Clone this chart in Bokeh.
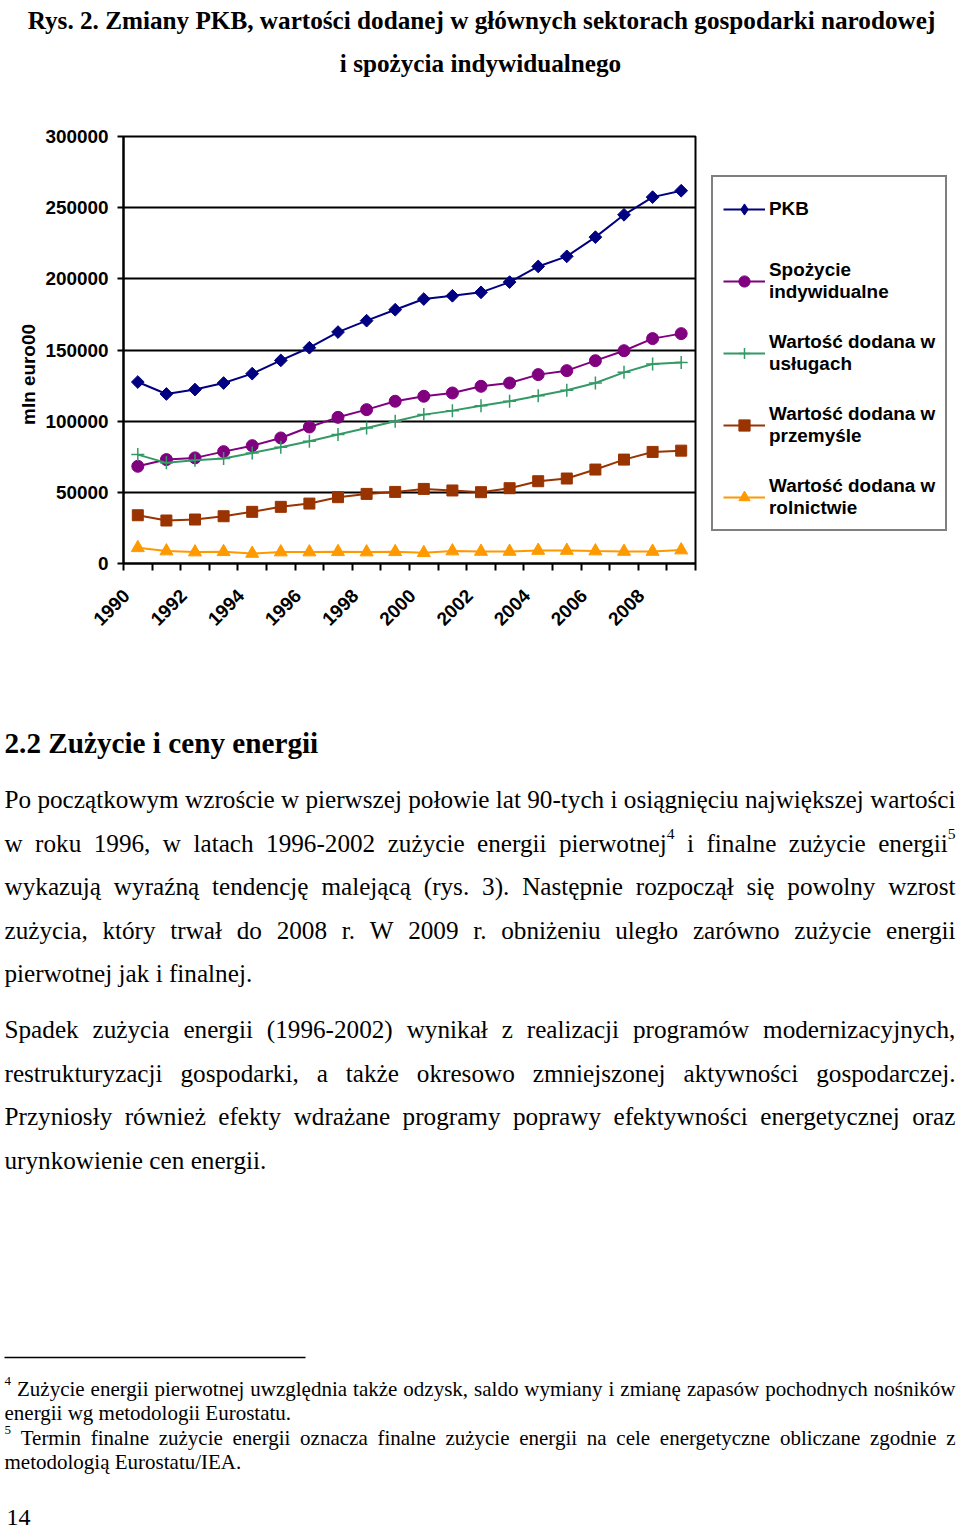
import os
import glob
import math
from bokeh.plotting import figure
from bokeh.models import Range1d, FixedTicker, Legend, LegendItem, ColumnDataSource
from bokeh.layouts import column, row
from bokeh.embed import file_html
from bokeh.resources import INLINE
from bokeh.core.properties import value

# ---------------- data ----------------
years = list(range(1990, 2010))
year_labels = [str(y) for y in years[::2]]

pkb = [127500, 119100, 122200, 126800, 133400, 142700, 151600, 162600, 170600, 178300,
       185800, 188100, 190500, 197700, 208700, 215800, 229300, 245000, 257400, 261900]
spozycie = [68300, 73000, 74200, 78600, 82800, 88200, 95900, 102700, 108100, 114000,
            117500, 119800, 124500, 126800, 132700, 135500, 142500, 149500, 158000, 161500]
uslugi = [76500, 70700, 72500, 73700, 77700, 81700, 85900, 90600, 95200, 99900,
          104600, 107400, 110900, 114000, 117900, 121700, 126800, 134300, 140200, 141300]
przemysl = [33900, 30200, 30900, 33200, 36300, 39800, 42100, 46600, 48900, 50300,
            52400, 51300, 50100, 52900, 57800, 59700, 66000, 73000, 78400, 79300]
rolnictwo = [11000, 8700, 8000, 8200, 7000, 8000, 8000, 8200, 8000, 8200,
             7500, 8700, 8400, 8400, 9100, 9100, 8700, 8400, 8400, 9400]

y_ticks = [0, 50000, 100000, 150000, 200000, 250000, 300000]
y_tick_labels = ["0", "50000", "100000", "150000", "200000", "250000", "300000"]
y_axis_title = "mln euro00"

series_labels = ["PKB", "Spożycie\nindywidualne", "Wartość dodana w\nusługach",
                 "Wartość dodana w\nprzemyśle", "Wartość dodana w\nrolnictwie"]

title_lines = ["Rys. 2. Zmiany PKB, wartości dodanej w głównych sektorach gospodarki narodowej",
               "i spożycia indywidualnego"]
heading = "2.2 Zużycie i ceny energii"
body_lines = [
    ("Po początkowym wzroście w pierwszej połowie lat 90-tych i osiągnięciu największej wartości", True),
    ("w roku 1996, w latach 1996-2002 zużycie energii pierwotnej^4 i finalne zużycie energii^5", True),
    ("wykazują wyraźną tendencję malejącą (rys. 3). Następnie rozpoczął się powolny wzrost", True),
    ("zużycia, który trwał do 2008 r. W 2009 r. obniżeniu uległo zarówno zużycie energii", True),
    ("pierwotnej jak i finalnej.", False),
    ("Spadek zużycia energii (1996-2002) wynikał z realizacji programów modernizacyjnych,", True),
    ("restrukturyzacji gospodarki, a także okresowo zmniejszonej aktywności gospodarczej.", True),
    ("Przyniosły również efekty wdrażane programy poprawy efektywności energetycznej oraz", True),
    ("urynkowienie cen energii.", False),
]
foot_lines = [
    ("^4 Zużycie energii pierwotnej uwzględnia także odzysk, saldo wymiany i zmianę zapasów pochodnych nośników", True),
    ("energii wg metodologii Eurostatu.", False),
    ("^5 Termin finalne zużycie energii oznacza finalne zużycie energii na cele energetyczne obliczane zgodnie z", True),
    ("metodologią Eurostatu/IEA.", False),
]
page_number = "14"

# ---------------- font measurement ----------------
def _find(name):
    for d in ("/usr/share/fonts", "/usr/local/share/fonts",
              os.path.expanduser("~/.fonts"), os.path.expanduser("~/.local/share/fonts")):
        if os.path.isdir(d):
            hits = glob.glob(os.path.join(d, "**", name), recursive=True)
            if hits:
                return hits[0]
    return None

_fonts = {}
try:
    from PIL import ImageFont
    for key, fname in {("serif", False): "LiberationSerif-Regular.ttf",
                       ("serif", True): "LiberationSerif-Bold.ttf",
                       ("sans", True): "LiberationSans-Bold.ttf"}.items():
        path = _find(fname)
        if path:
            _fonts[key] = ImageFont.truetype(path, 100)
except Exception:
    _fonts = {}


def measure(text, size, fam="serif", bold=False):
    f = _fonts.get((fam, bold))
    if f is not None:
        try:
            return f.getlength(text) * size / 100.0
        except Exception:
            pass
    return len(text) * size * (0.55 if fam == "sans" else 0.46)


def fit(pairs, default, fam, bold, lo, hi):
    if (fam, bold) not in _fonts:
        return default
    vals = [target / measure(t, 1.0, fam, bold) for t, target in pairs]
    v = sum(vals) / len(vals)
    return round(min(max(v, lo), hi), 1)


TITLE_FS = fit([(title_lines[0], 908)], 25, "serif", True, 22, 28)
HEAD_FS = fit([(heading, 314)], 29, "serif", True, 25, 32)
BODY_FS = fit([("pierwotnej jak i finalnej.", 247), ("urynkowienie cen energii.", 262)], 25, "serif", False, 22, 27)
FOOT_FS = fit([("energii wg metodologii Eurostatu.", 287), ("metodologią Eurostatu/IEA.", 236)], 21, "serif", False, 18, 23)
CHART_FS = fit([("300000", 63), ("Wartość dodana w", 168), ("mln euro00", 100)], 18.7, "sans", True, 16, 20)

W = 958
TITLE_H = 78
CHART_H = 610
TEXT_H = 1535 - TITLE_H - CHART_H
STRIP_W = 40
CHART_W = 703 - STRIP_W


def no_align(fig):
    if "frame_align" in fig.properties():
        fig.frame_align = False


def blank(fig):
    no_align(fig)
    fig.outline_line_color = None
    fig.grid.visible = False


def canvas(width, height, xr, yr):
    fig = figure(width=width, height=height, x_range=xr, y_range=yr, min_border=0,
                 toolbar_location=None, output_backend="svg",
                 x_axis_location=None, y_axis_location=None)
    blank(fig)
    return fig


cf = f"{CHART_FS}px"

# ---------------- title figure ----------------
ft = canvas(W, TITLE_H, Range1d(0, W), Range1d(TITLE_H, 0))
ft.text(x=[481, 480], y=[20, 63], text=title_lines,
        text_font=value("Liberation Serif"), text_font_size=value(f"{TITLE_FS}px"),
        text_font_style="bold", text_align="center", text_baseline="alphabetic",
        text_color="black")

# ---------------- y-axis title strip ----------------
yl = canvas(STRIP_W, CHART_H, Range1d(0, STRIP_W), Range1d(0, CHART_H))
yl.text(x=[28], y=[TITLE_H + CHART_H - 374], text=[y_axis_title], angle=math.pi / 2,
        text_font=value("Liberation Sans"), text_font_size=value(cf),
        text_font_style="bold", text_align="center", text_baseline="middle",
        text_color="black")

# ---------------- chart ----------------
p = figure(width=CHART_W, height=CHART_H, x_range=Range1d(1989.5, 2009.5),
           y_range=Range1d(0, 300000), toolbar_location=None, output_backend="svg",
           min_border_left=123 - STRIP_W, min_border_right=CHART_W - (123 - STRIP_W) - 572,
           min_border_top=58, min_border_bottom=125)
no_align(p)
p.background_fill_color = "white"
p.border_fill_color = "white"
p.outline_line_color = "black"
p.outline_line_width = 2
p.xgrid.visible = False
p.ygrid.grid_line_color = "black"
p.ygrid.grid_line_width = 2

p.yaxis.ticker = FixedTicker(ticks=y_ticks)
p.yaxis.major_label_overrides = {t: lab for t, lab in zip(y_ticks, y_tick_labels)}
p.yaxis.major_tick_out = 6
p.yaxis.major_tick_in = 0
p.yaxis.minor_tick_out = 0
p.yaxis.minor_tick_in = 0
p.yaxis.major_label_standoff = 9

# rotated year labels are anchored (as in the original) slightly left of the category centre
label_ticks = [round(y - 0.4, 2) for y in years[::2]]
p.xaxis.ticker = FixedTicker(ticks=label_ticks,
                             minor_ticks=[y - 0.5 for y in years] + [years[-1] + 0.5])
p.xaxis.major_label_overrides = {t: lab for t, lab in zip(label_ticks, year_labels)}
p.xaxis.major_label_orientation = math.pi / 4
p.xaxis.major_tick_out = 0
p.xaxis.major_tick_in = 0
p.xaxis.minor_tick_out = 7
p.xaxis.minor_tick_in = 0
p.xaxis.major_label_standoff = 22

for ax in (p.xaxis, p.yaxis):
    ax.axis_line_color = "black"
    ax.axis_line_width = 2
    ax.major_tick_line_color = "black"
    ax.major_tick_line_width = 2
    ax.minor_tick_line_color = "black"
    ax.minor_tick_line_width = 2
    ax.major_label_text_font = "Liberation Sans"
    ax.major_label_text_font_style = "bold"
    ax.major_label_text_font_size = cf
    ax.major_label_text_color = "black"

# (values, colour, chart marker, size, angle, marker line width, legend marker)
styles = [
    (pkb, "#000080", "square", 9, math.pi / 4, 1, "diamond"),
    (spozycie, "#800080", "circle", 12, 0, 1, "circle"),
    (uslugi, "#339966", "cross", 13, 0, 1.5, "cross"),
    (przemysl, "#993300", "square", 11, 0, 1, "square"),
    (rolnictwo, "#FF9900", "triangle", 13, 0, 1, "triangle"),
]

# legend panel: its own figure so that the box is not clipped by the chart frame;
# its swatches use the same series (plotted outside its empty view)
lf = canvas(W - CHART_W - STRIP_W, CHART_H, Range1d(0, 1), Range1d(-1, 0))

items = []
for (vals, col, mk, sz, ang, mlw, lmk), lab in zip(styles, series_labels):
    src = ColumnDataSource(dict(x=years, y=vals))
    p.line("x", "y", source=src, line_color=col, line_width=2)
    p.scatter("x", "y", source=src, marker=mk, size=sz, angle=ang,
              fill_color=col, line_color=col, line_width=mlw)
    ln = lf.line("x", "y", source=src, line_color=col, line_width=2)
    sc = lf.scatter("x", "y", source=src, marker=lmk, size=sz,
                    fill_color=col, line_color=col, line_width=mlw)
    items.append(LegendItem(label=lab, renderers=[ln, sc]))

legend = Legend(items=items, location=(711 - CHART_W - STRIP_W, TITLE_H + CHART_H - 531))
legend.label_text_font = "Liberation Sans"
legend.label_text_font_style = "bold"
legend.label_text_font_size = cf
legend.label_text_color = "black"
legend.glyph_width = 42
legend.glyph_height = 28
legend.label_standoff = 4
legend.label_height = 44
legend.spacing = 28
legend.padding = 10
legend.margin = 0
legend.border_line_color = "black"
legend.border_line_width = 2
legend.background_fill_color = "white"
legend.background_fill_alpha = 1
lf.add_layout(legend)

# ---------------- text figure ----------------
T0 = TITLE_H + CHART_H
fx = canvas(W, TEXT_H, Range1d(0, W), Range1d(T0 + TEXT_H, T0))

groups = {}


def put(key, x, y, t):
    g = groups.setdefault(key, dict(x=[], y=[], text=[]))
    g["x"].append(x)
    g["y"].append(y)
    g["text"].append(t)


def place_line(line, y, size, left, right, justify, sup_ratio, sup_raise):
    words = line.split(" ")
    parts = []
    for w in words:
        if "^" in w:
            main, sup = w.split("^", 1)
        else:
            main, sup = w, ""
        wd = measure(main, size) + (measure(sup, size * sup_ratio) if sup else 0)
        parts.append((main, sup, wd))
    total = sum(pp[2] for pp in parts)
    space = measure(" ", size)
    gap = space
    if justify and len(parts) > 1:
        gap = (right - left - total) / (len(parts) - 1)
        gap = max(gap, space * 0.4)
    x = left
    for main, sup, wd in parts:
        if main:
            put(("reg", size), x, y, main)
        if sup:
            put(("reg", round(size * sup_ratio, 1)), x + measure(main, size), y - sup_raise, sup)
        x += wd + gap


LEFT, RIGHT = 4, 955
body_baselines = [799, 842.5, 886, 929.5, 973, 1029, 1072.5, 1116, 1159.5]
for (ln_, just), yb in zip(body_lines, body_baselines):
    place_line(ln_, yb, BODY_FS, LEFT, RIGHT, just, 0.62, 9)

foot_baselines = [1388, 1412.5, 1437, 1461.5]
for (ln_, just), yb in zip(foot_lines, foot_baselines):
    place_line(ln_, yb, FOOT_FS, LEFT, RIGHT, just, 0.62, 8)

put(("bold", HEAD_FS), LEFT, 742, heading)
put(("reg", 24), 6, 1517, page_number)

for (kind, size), g in groups.items():
    fx.text(x="x", y="y", text="text", source=ColumnDataSource(g),
            text_font=value("Liberation Serif"), text_font_size=value(f"{size}px"),
            text_font_style="bold" if kind == "bold" else "normal",
            text_align="left", text_baseline="alphabetic", text_color="black")

fx.segment(x0=[LEFT], y0=[1357], x1=[305], y1=[1357], line_color="black", line_width=1.3)

layout = column(ft, row(yl, p, lf), fx)
with open("out.html", "w") as fh:
    fh.write(file_html(layout, INLINE, title="Rys. 2"))
